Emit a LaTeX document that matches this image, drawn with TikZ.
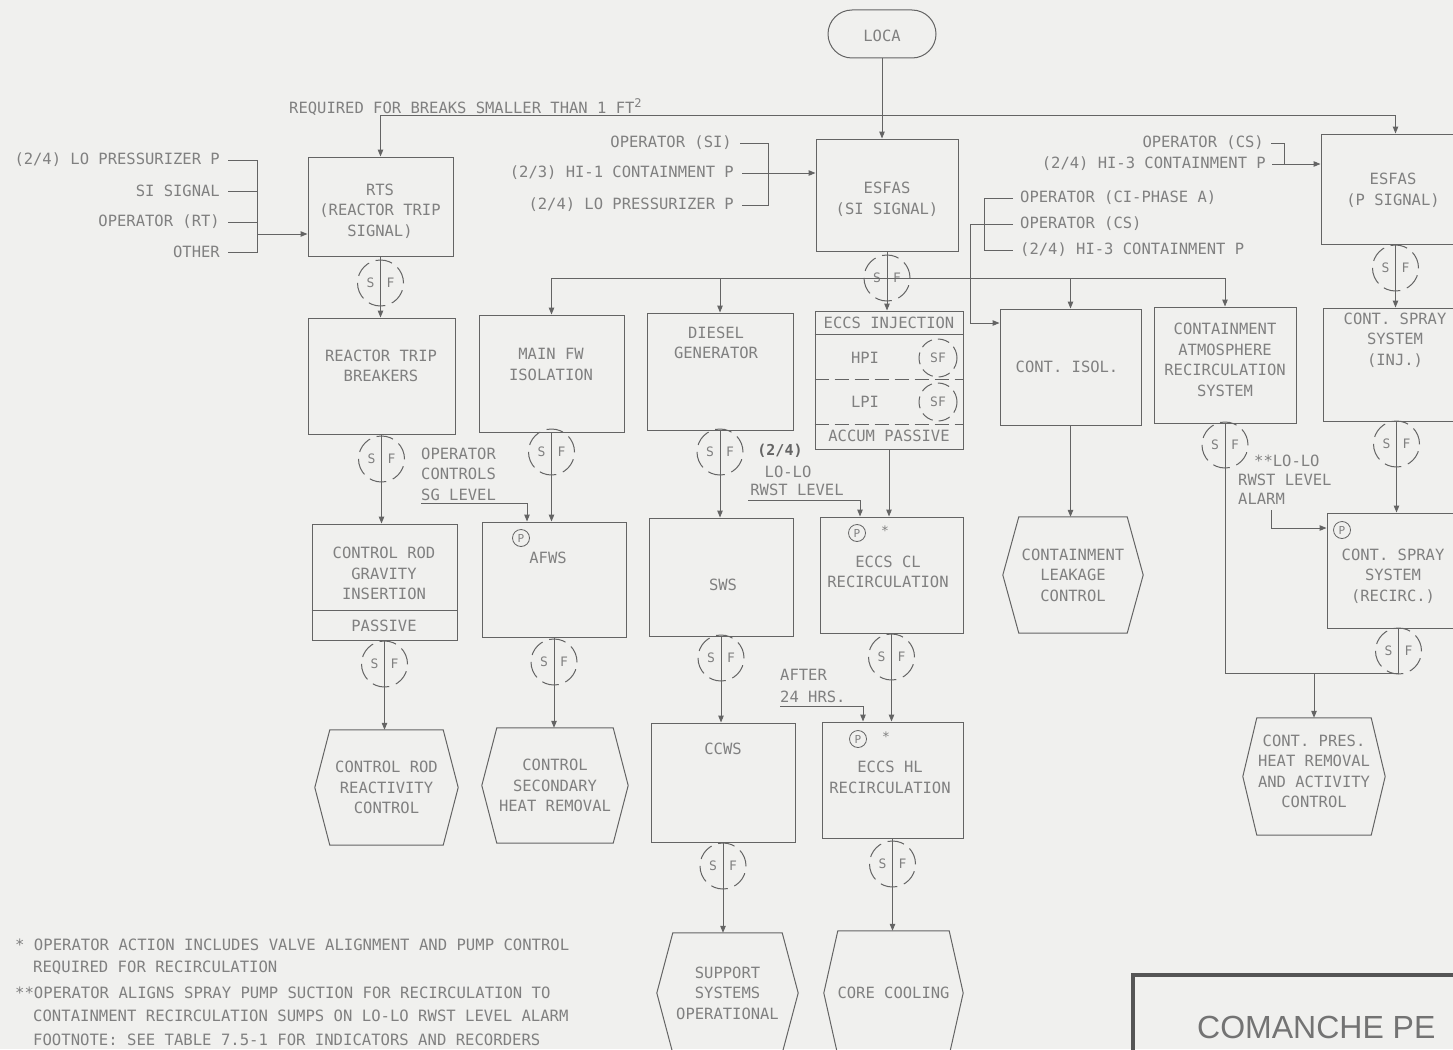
\documentclass[tikz,border=0pt]{standalone}
\usepackage{fontspec}
\newfontfamily\plotfont{DejaVu Sans Mono}
\newfontfamily\titlefont{Liberation Sans}
\usetikzlibrary{arrows.meta}
\definecolor{bgc}{RGB}{240,240,238}
\definecolor{ink}{RGB}{100,100,100}
\definecolor{txtc}{RGB}{128,128,128}
\newcommand{\hexdraw}[2]{\draw[ln] (#1.west) -- ([xshift=#2pt]#1.north west) -- ([xshift=-#2pt]#1.north east) -- (#1.east) -- ([xshift=-#2pt]#1.south east) -- ([xshift=#2pt]#1.south west) -- cycle;}
\newcommand{\sfmark}[3]{\node[sfc] (#1) at (#2,#3) {}; \node[sflet] (#1s) at (#2-10,#3) {S}; \node[sflet] (#1f) at (#2+10,#3) {F};}
\begin{document}
\begin{tikzpicture}[x=1pt,y=-1pt,
  ln/.style={draw=ink,line width=1pt},
  arr/.style={ln,-{Triangle[length=7pt,width=5.5pt]}},
  box/.style={draw=ink,line width=1pt,rectangle,inner sep=0pt},
  hexn/.style={rectangle,inner sep=0pt,text=txtc,align=center,font=\plotfont\fontsize{15.5}{20.5}\selectfont},
  lbl/.style={inner sep=0pt,text=txtc,font=\plotfont\fontsize{15.5}{20.5}\selectfont},
  mlbl/.style={lbl,align=center},
  fnl/.style={inner sep=0pt,anchor=west,text=txtc,font=\plotfont\fontsize{15.6}{20}\selectfont},
  sfc/.style={circle,draw=ink,line width=1pt,dash pattern=on 17pt off 7pt,minimum size=46pt,inner sep=0pt},
  sfs/.style={circle,draw=ink,line width=1pt,dash pattern=on 12pt off 6pt,minimum size=38pt,inner sep=0pt},
  sflet/.style={inner sep=0pt,text=txtc,font=\plotfont\fontsize{13}{13}\selectfont},
  pc/.style={circle,draw=ink,line width=0.8pt,minimum size=17pt,inner sep=0pt,text=txtc,font=\plotfont\fontsize{11}{11}\selectfont},
  dsh/.style={ln,dash pattern=on 14pt off 6pt}
]
\useasboundingbox (0,0) rectangle (1453,1049);
\fill[bgc] (0,0) rectangle (1453,1049);
\clip (0,0) rectangle (1453,1049);

% ---------- top ----------
\node[box,minimum width=108pt,minimum height=48pt,rounded corners=24pt] (loca) at (882,34) {};
\node[lbl] (locaT) at (882,36) {LOCA};
\node[lbl,anchor=west] (req) at (289,107) {REQUIRED FOR BREAKS SMALLER THAN 1 FT\raisebox{6pt}{\fontsize{12}{12}\selectfont 2}};

\node[box,minimum width=145pt,minimum height=99pt] (rts) at (380.5,206.5) {};
\node[mlbl] (rtsT) at (380,211) {RTS\\(REACTOR TRIP\\SIGNAL)};
\node[box,minimum width=142pt,minimum height=112pt] (esfasSI) at (887,195) {};
\node[mlbl] (esfasSIT) at (887,199.5) {ESFAS\\(SI SIGNAL)};
\node[box,minimum width=149pt,minimum height=110pt] (esfasP) at (1395.5,189) {};
\node[mlbl] (esfasPT) at (1393,190.5) {ESFAS\\(P SIGNAL)};

% RTS inputs
\node[lbl,anchor=east] (ri1) at (220,160) {(2/4) LO PRESSURIZER P};
\node[lbl,anchor=east] (ri2) at (220,191) {SI SIGNAL};
\node[lbl,anchor=east] (ri3) at (220,222) {OPERATOR (RT)};
\node[lbl,anchor=east] (ri4) at (220,252) {OTHER};
\coordinate (rb1) at (257,160);
\coordinate (rb4) at (257,252);
\coordinate (rbo) at (257,234);
\draw[ln] ([xshift=8pt]ri1.east) -- (rb1) -- (rb4) -- ([xshift=8pt]ri4.east);
\draw[ln] ([xshift=8pt]ri2.east) -- (ri2.east -| rb1);
\draw[ln] ([xshift=8pt]ri3.east) -- (ri3.east -| rb1);
\draw[arr] (rbo) -- (rbo -| rts.west);

% ESFAS SI inputs
\node[lbl,anchor=east] (si1) at (732,143) {OPERATOR (SI)};
\node[lbl,anchor=east] (si2) at (734,173) {(2/3) HI-1 CONTAINMENT P};
\node[lbl,anchor=east] (si3) at (734,205) {(2/4) LO PRESSURIZER P};
\coordinate (sb1) at (768,143);
\coordinate (sb3) at (768,205);
\draw[ln] ([xshift=8pt]si1.east) -- (sb1) -- (sb3) -- ([xshift=8pt]si3.east);
\draw[arr] ([xshift=8pt]si2.east) -- (si2.east -| esfasSI.west);

% ESFAS P inputs
\node[lbl,anchor=east] (pi1) at (1264,143) {OPERATOR (CS)};
\node[lbl,anchor=east] (pi2) at (1266,164) {(2/4) HI-3 CONTAINMENT P};
\coordinate (pb1) at (1284,143);
\coordinate (pb2) at (1284,164);
\draw[ln] ([xshift=7pt]pi1.east) -- (pb1) -- (pb2);
\draw[arr] ([xshift=6pt]pi2.east) -- (pi2.east -| esfasP.west);

% top line
\coordinate (topL) at (380.5,115);
\coordinate (topR) at (1395.5,115);
\draw[ln] (topL) -- (topR);
\draw[arr] (topL) -- (rts.north);
\draw[arr] (topR) -- (esfasP.north);
\draw[arr] (loca.south) -- (loca.south |- esfasSI.north);

% ---------- second row ----------
\node[box,minimum width=147pt,minimum height=116pt] (rtb) at (381.5,376) {};
\node[mlbl] (rtbT) at (381,366) {REACTOR TRIP\\BREAKERS};
\node[box,minimum width=145pt,minimum height=117pt] (mfw) at (551.5,373.5) {};
\node[mlbl] (mfwT) at (551,364.5) {MAIN FW\\ISOLATION};
\node[box,minimum width=146pt,minimum height=117pt] (dg) at (720,371.5) {};
\node[mlbl] (dgT) at (716,343) {DIESEL\\GENERATOR};
\node[box,minimum width=148pt,minimum height=138pt] (eccsI) at (889,380) {};
\node[lbl] (eccsIT) at (889,323) {ECCS INJECTION};
\draw[ln] (eccsI.west |- 0,334) -- (eccsI.east |- 0,334);
\draw[dsh] (eccsI.west |- 0,379) -- (eccsI.east |- 0,379);
\draw[dsh] (eccsI.west |- 0,424) -- (eccsI.east |- 0,424);
\node[lbl] (hpi) at (865,358) {HPI};
\node[lbl] (lpi) at (865,402) {LPI};
\node[lbl] (accum) at (889,436) {ACCUM PASSIVE};
\node[sfs] (sfh) at (938,358) {};
\node[sflet] (sfhT) at (938,358) {SF};
\node[sfs] (sfl) at (938,402) {};
\node[sflet] (sflT) at (938,402) {SF};
\node[box,minimum width=141pt,minimum height=116pt] (cisol) at (1070.5,367) {};
\node[lbl] (cisolT) at (1067,367) {CONT. ISOL.};
\node[box,minimum width=142pt,minimum height=116pt] (cars) at (1225,365) {};
\node[mlbl] (carsT) at (1225,360) {CONTAINMENT\\ATMOSPHERE\\RECIRCULATION\\SYSTEM};
\node[box,minimum width=147pt,minimum height=113pt] (csinj) at (1396.5,364.5) {};
\node[mlbl] (csinjT) at (1395,340) {CONT. SPRAY\\SYSTEM\\(INJ.)};

% Cont isol inputs
\node[lbl,anchor=west] (ci1) at (1020,198) {OPERATOR (CI-PHASE A)};
\node[lbl,anchor=west] (ci2) at (1020,224) {OPERATOR (CS)};
\node[lbl,anchor=west] (ci3) at (1020,250) {(2/4) HI-3 CONTAINMENT P};
\coordinate (cb1) at (984,198);
\coordinate (cb3) at (984,250);
\coordinate (cb2) at (970,224);
\coordinate (cb4) at (970,323);
\draw[ln] ([xshift=-7pt]ci1.west) -- (cb1) -- (cb3) -- ([xshift=-7pt]ci3.west);
\draw[arr] ([xshift=-7pt]ci2.west) -- (cb2) -- (cb4) -- (cb4 -| cisol.west);

% distribution bus
\sfmark{sfE}{887}{278}
\coordinate (busL) at (551.5,278);
\coordinate (busR) at (1225,278);
\draw[ln] (busL) -- (busR);
\draw[arr] (busL) -- (mfw.north);
\draw[arr] (dg.north |- busL) -- (dg.north);
\draw[arr] (cisol.north |- busL) -- (cisol.north);
\draw[arr] (busR) -- (cars.north);
\draw[arr] (esfasSI.south) -- (esfasSI.south |- eccsI.north);
\sfmark{sfR}{380.5}{283}
\draw[arr] (rts.south) -- (rts.south |- rtb.north);
\sfmark{sfP}{1395.5}{268}
\draw[arr] (esfasP.south) -- (esfasP.south |- csinj.north);

% ---------- third row ----------
\node[box,minimum width=145pt,minimum height=116pt] (crgi) at (384.5,582) {};
\node[mlbl] (crgiT) at (384,573.5) {CONTROL ROD\\GRAVITY\\INSERTION};
\draw[ln] (crgi.west |- 0,610) -- (crgi.east |- 0,610);
\node[lbl] (crgiP) at (384,626) {PASSIVE};
\node[box,minimum width=144pt,minimum height=115pt] (afws) at (554,579.5) {};
\node[pc] (afwsP) at (521,538) {P};
\node[lbl] (afwsT) at (548,558) {AFWS};
\node[box,minimum width=144pt,minimum height=118pt] (sws) at (721,577) {};
\node[lbl] (swsT) at (723,585) {SWS};
\node[box,minimum width=143pt,minimum height=116pt] (eccsCL) at (891.5,575) {};
\node[pc] (eccsCLP) at (857,533) {P};
\node[sflet] (eccsCLs) at (885,531) {*};
\node[mlbl] (eccsCLT) at (888,572) {ECCS CL\\RECIRCULATION};
\node[hexn,minimum width=140pt,minimum height=116pt] (clc) at (1073,575) {CONTAINMENT\\LEAKAGE\\CONTROL};
\hexdraw{clc}{16}
\node[box,minimum width=143pt,minimum height=115pt] (csrec) at (1398.5,570.5) {};
\node[pc] (csrecP) at (1342,530) {P};
\node[mlbl] (csrecT) at (1393,576) {CONT. SPRAY\\SYSTEM\\(RECIRC.)};

\sfmark{sfB}{381.5}{459}
\draw[arr] (rtb.south) -- (rtb.south |- crgi.north);
\sfmark{sfM}{551.5}{452}
\draw[arr] (mfw.south) -- (mfw.south |- afws.north);
\sfmark{sfD}{720}{452}
\draw[arr] (dg.south) -- (dg.south |- sws.north);
\draw[arr] (eccsI.south) -- (eccsI.south |- eccsCL.north);
\draw[arr] (cisol.south) -- (cisol.south |- clc.north);
\sfmark{sfI}{1396.5}{444}
\draw[arr] (csinj.south) -- (csinj.south |- csrec.north);

% side inputs
\node[lbl,anchor=west,align=left] (sgT) at (421,474) {OPERATOR\\CONTROLS\\SG LEVEL};
\coordinate (sgA) at (421,503);
\coordinate (sgB) at (527,503);
\draw[arr] (sgA) -- (sgB) -- (sgB |- afws.north);

\node[lbl,text=ink,font=\plotfont\bfseries\fontsize{15}{15}\selectfont] (rw1) at (780,451) {(2/4)};
\node[lbl] (rw2) at (788,472) {LO-LO};
\node[lbl] (rw3) at (797,490) {RWST LEVEL};
\coordinate (rwA) at (748,500);
\coordinate (rwB) at (860,500);
\draw[arr] (rwA) -- (rwB) -- (rwB |- eccsCL.north);

\node[lbl,anchor=west] (ll1) at (1254,461) {**LO-LO};
\node[lbl,anchor=west] (ll2) at (1238,480) {RWST LEVEL};
\node[lbl,anchor=west] (ll3) at (1238,499) {ALARM};
\coordinate (llA) at (1271,510);
\coordinate (llB) at (1271,528);
\draw[arr] (llA) -- (llB) -- (llB -| csrec.west);

% ---------- fourth row ----------
\node[hexn,minimum width=143pt,minimum height=115pt] (crrc) at (386.5,787.5) {CONTROL ROD\\REACTIVITY\\CONTROL};
\hexdraw{crrc}{15}
\node[hexn,minimum width=146pt,minimum height=115pt] (cshr) at (555,785.5) {CONTROL\\SECONDARY\\HEAT REMOVAL};
\hexdraw{cshr}{15}
\node[box,minimum width=144pt,minimum height=119pt] (ccws) at (723,782.5) {};
\node[lbl] (ccwsT) at (723,749) {CCWS};
\node[box,minimum width=141pt,minimum height=116pt] (eccsHL) at (892.5,780) {};
\node[pc] (eccsHLP) at (858,739) {P};
\node[sflet] (eccsHLs) at (886,737) {*};
\node[mlbl] (eccsHLT) at (890,777.5) {ECCS HL\\RECIRCULATION};
\node[hexn,minimum width=142pt,minimum height=117pt] (cphr) at (1314,776.5) {};
\node[mlbl] (cphrT) at (1314,771.5) {CONT. PRES.\\HEAT REMOVAL\\AND ACTIVITY\\CONTROL};
\hexdraw{cphr}{14}

\sfmark{sfG}{384.5}{664}
\draw[arr] (crgi.south) -- (crgi.south |- crrc.north);
\sfmark{sfA}{554}{662}
\draw[arr] (afws.south) -- (afws.south |- cshr.north);
\sfmark{sfS}{721}{658}
\draw[arr] (sws.south) -- (sws.south |- ccws.north);
\sfmark{sfC}{891.5}{657}
\draw[arr] (eccsCL.south) -- (eccsCL.south |- eccsHL.north);

\node[lbl,anchor=west] (af1) at (780,675) {AFTER};
\node[lbl,anchor=west] (af2) at (780,697) {24 HRS.};
\coordinate (afA) at (780,706);
\coordinate (afB) at (863,706);
\draw[arr] (afA) -- (afB) -- (afB |- eccsHL.north);

% containment merge
\sfmark{sfQ}{1225}{445}
\sfmark{sfX}{1398.5}{651}
\coordinate (m1) at (1225,673);
\coordinate (m2) at (1398.5,673);
\coordinate (mj) at (1314,673);
\draw[ln] (cars.south) -- (m1) -- (m2) -- (csrec.south);
\draw[arr] (mj) -- (mj |- cphr.north);

% ---------- bottom row ----------
\node[hexn,minimum width=141pt,minimum height=120pt] (sso) at (727.5,993) {SUPPORT\\SYSTEMS\\OPERATIONAL};
\hexdraw{sso}{16}
\node[hexn,minimum width=139pt,minimum height=124pt] (cc) at (893.5,993) {CORE COOLING};
\hexdraw{cc}{14}
\sfmark{sfW}{723}{866}
\draw[arr] (ccws.south) -- (ccws.south |- sso.north);
\sfmark{sfL}{892.5}{864}
\draw[arr] (eccsHL.south) -- (eccsHL.south |- cc.north);

% footnotes
\node[fnl] (fn1) at (15,945) {* OPERATOR ACTION INCLUDES VALVE ALIGNMENT AND PUMP CONTROL};
\node[fnl] (fn2) at (33,968) {REQUIRED FOR RECIRCULATION};
\node[fnl] (fn3) at (15,993) {**OPERATOR ALIGNS SPRAY PUMP SUCTION FOR RECIRCULATION TO};
\node[fnl] (fn4) at (33,1016) {CONTAINMENT RECIRCULATION SUMPS ON LO-LO RWST LEVEL ALARM};
\node[fnl] (fn5) at (33,1040) {FOOTNOTE:  SEE TABLE 7.5-1 FOR INDICATORS AND RECORDERS};

% title block
\draw[draw=ink!85!black,line width=4.5pt] (1133,975) rectangle (1500,1100);
\node[inner sep=0pt,anchor=west,text=txtc!90!black,font=\titlefont\fontsize{32}{32}\selectfont] (title) at (1197,1027) {COMANCHE PE};
\end{tikzpicture}
\end{document}
